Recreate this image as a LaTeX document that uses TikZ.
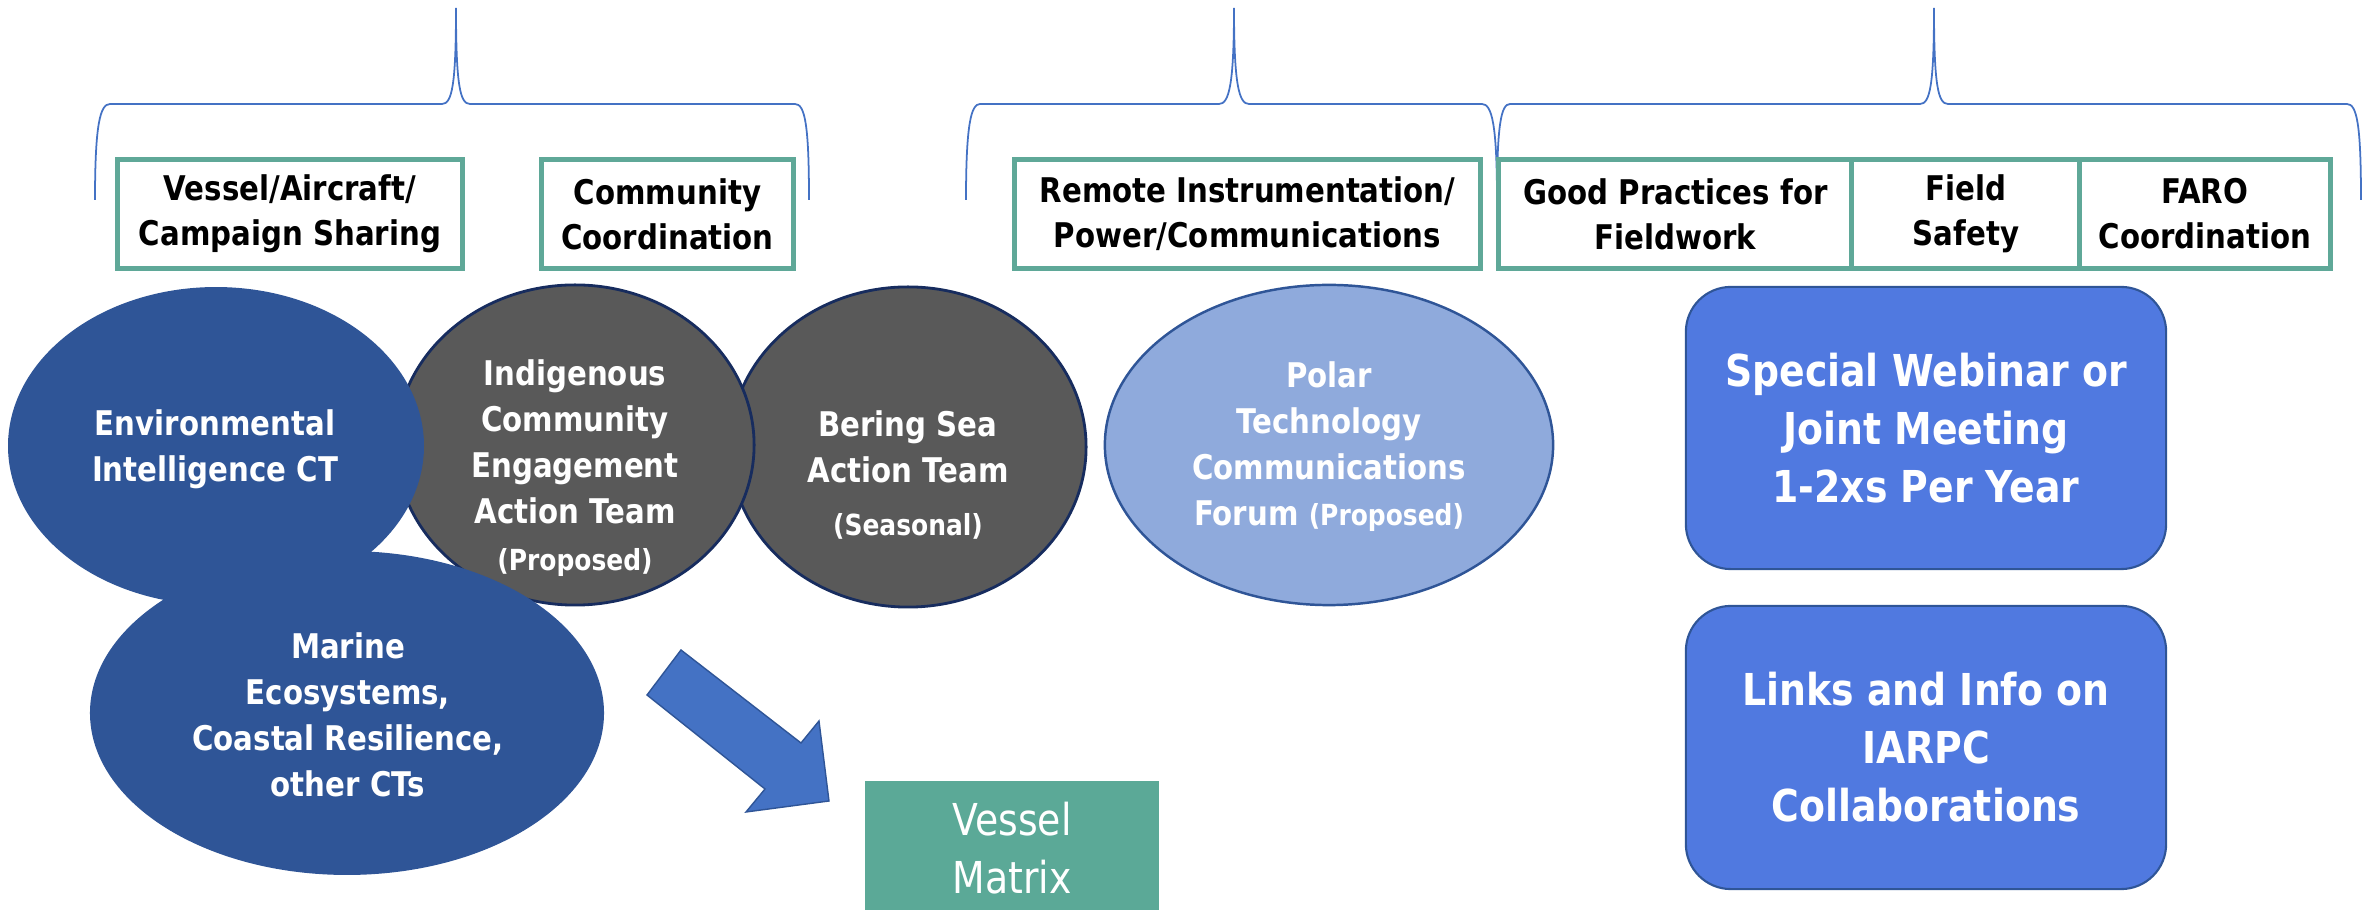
\documentclass[tikz,border=0pt]{standalone}
\usepackage{fontspec}
\setmainfont{DejaVu Sans}[FakeStretch=0.86]
\usetikzlibrary{shapes.geometric}
\definecolor{tealbox}{HTML}{5FA898}
\definecolor{tealfill}{HTML}{5BA997}
\definecolor{navyblue}{HTML}{2F5597}
\definecolor{darknavy}{HTML}{172C5E}
\definecolor{grayfill}{HTML}{595959}
\definecolor{lightblue}{HTML}{8FAADC}
\definecolor{boxblue}{HTML}{5079E0}
\definecolor{arrowblue}{HTML}{4472C4}
\definecolor{bracecol}{HTML}{4472C4}
\begin{document}
\begin{tikzpicture}[x=0.01cm,y=-0.01cm,
  topbox/.style={draw=tealbox, line width=1.42pt, fill=white, minimum height=1.08cm,
    inner sep=0pt, align=center, text=black, font=\bfseries\fontsize{9.67}{12.8}\selectfont},
  ell/.style={ellipse, inner sep=0pt},
  eltext/.style={text=white, align=center, font=\bfseries\fontsize{9.67}{13.1}\selectfont},
  rbox/.style={rectangle, rounded corners=0.45cm, fill=boxblue, draw=navyblue, line width=0.6pt,
    minimum width=4.8cm, minimum height=2.82cm, text=white, align=center,
    font=\bfseries\fontsize{12.5}{16.5}\selectfont},
  brace/.style={draw=bracecol, line width=0.5pt}
]
\useasboundingbox (0,0) rectangle (2371,910);

% braces
\path[brace] (95,200) .. controls (95,125) and (100,104) .. (110,104) -- (442,104)
  .. controls (452,104) and (456,85) .. (456,8)
  .. controls (456,85) and (460,104) .. (470,104) -- (795,104)
  .. controls (805,104) and (809,125) .. (809,200);
\path[brace] (966,200) .. controls (966,125) and (971,104) .. (980,104) -- (1219,104)
  .. controls (1229,104) and (1234,85) .. (1234,8)
  .. controls (1234,85) and (1239,104) .. (1249,104) -- (1482,104)
  .. controls (1492,104) and (1497,125) .. (1497,200);
\path[brace] (1497,200) .. controls (1497,125) and (1501,104) .. (1510,104) -- (1920,104)
  .. controls (1930,104) and (1934,85) .. (1934,8)
  .. controls (1934,85) and (1938,104) .. (1948,104) -- (2347,104)
  .. controls (2357,104) and (2361,125) .. (2361,200);

% top boxes
\node[topbox, minimum width=3.44cm] (vac) at (290,214) {Vessel/Aircraft/\\Campaign Sharing};
\node[topbox, minimum width=2.51cm] (cc) at (667.5,214) {Community\\Coordination};
\node[topbox, minimum width=4.65cm] (rip) at (1247.5,214) {Remote Instrumentation/\\Power/Communications};
\node[topbox, minimum width=3.53cm] (gpf) at (1675.5,214) {Good Practices for\\Fieldwork};
\node[topbox, minimum width=2.28cm] (fs) at (1966,214) {Field\\Safety};
\node[topbox, minimum width=2.50cm] (faro) at (2205,214) {FARO\\Coordination};

% ellipses
\node[ell, fill=grayfill, draw=darknavy, line width=0.8pt, minimum width=3.56cm, minimum height=3.20cm] (bering) at (908,447) {};
\node[ell, fill=grayfill, draw=darknavy, line width=0.8pt, minimum width=3.58cm, minimum height=3.20cm] (indig) at (575,445) {};
\node[ell, fill=navyblue, draw=navyblue, line width=0.5pt, minimum width=4.14cm, minimum height=3.16cm] (env) at (216,446) {};
\node[ell, fill=navyblue, draw=navyblue, line width=0.5pt, minimum width=5.12cm, minimum height=3.22cm] (marine) at (347,713) {};
\node[ell, fill=lightblue, draw=navyblue, line width=0.7pt, minimum width=4.48cm, minimum height=3.20cm] (polar) at (1329,445) {};

% ellipse texts
\node[eltext] (envt) at (215,449) {Environmental\\Intelligence CT};
\node[eltext] (indigt) at (575,468) {Indigenous\\Community\\Engagement\\Action Team\\{\fontsize{8.25}{11}\selectfont (Proposed)}};
\node[eltext] (beringt) at (908,475) {Bering Sea\\Action Team\\[2pt]{\fontsize{8.25}{11}\selectfont (Seasonal)}};
\node[eltext] (marinet) at (348,715) {Marine\\Ecosystems,\\Coastal Resilience,\\other CTs};
\node[eltext] (polart) at (1329,447) {Polar\\Technology\\Communications\\Forum {\fontsize{8.25}{11}\selectfont (Proposed)}};

% block arrow
\coordinate (a1) at (647,695);
\coordinate (a2) at (681,650);
\coordinate (a3) at (801,743);
\coordinate (a4) at (819,721);
\coordinate (a5) at (829,801);
\coordinate (a6) at (746,812);
\coordinate (a7) at (765,789);
\path[fill=arrowblue, draw=navyblue, line width=0.4pt] (a1) -- (a2) -- (a3) -- (a4) -- (a5) -- (a6) -- (a7) -- cycle;

% vessel matrix
\node[fill=tealfill, minimum width=2.94cm, minimum height=1.34cm, inner sep=0pt, text=white, align=center,
  font=\fontsize{12.5}{16.5}\selectfont] (vm) at (1012,848) {Vessel\\Matrix};

% rounded boxes
\node[rbox] (webinar) at (1926,428) {Special Webinar or\\Joint Meeting\\1-2xs Per Year};
\node[rbox, minimum height=2.83cm] (links) at (1926,747.5) {Links and Info on\\IARPC\\Collaborations};
\end{tikzpicture}
\end{document}
